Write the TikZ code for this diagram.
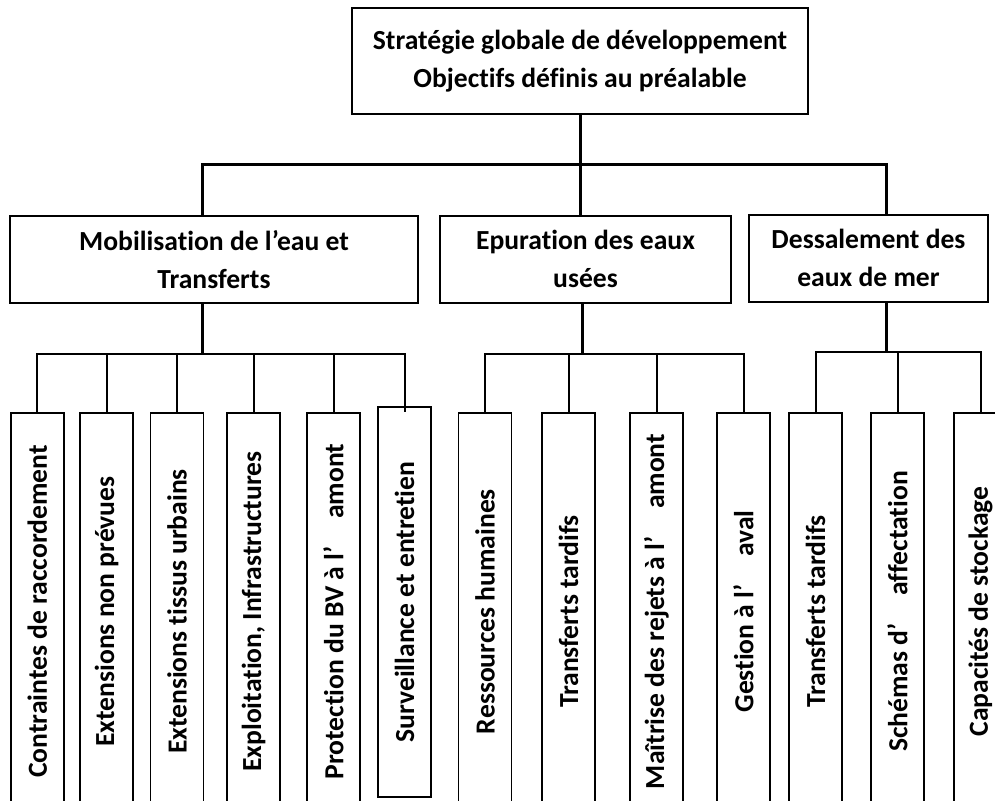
\documentclass[tikz,border=0pt]{standalone}
\usepackage{fontspec}
\setmainfont{Carlito}[Ligatures=NoCommon]
\usetikzlibrary{positioning}
\newcommand{\tabgap}{\hspace{1em}}
\tikzset{
    common/.style={draw, rectangle, line width=1pt, inner sep=2pt, font=\bfseries\fontsize{13.8}{19}\selectfont},
    topbox/.style={common, minimum width=228pt, minimum height=53pt, align=center},
    headbox/.style={common, minimum height=43.5pt, align=center},
    leafbox/.style={common, line width=0.8pt, rotate=90, minimum width=198.5pt, minimum height=26.5pt},
    link/.style={line width=1.5pt},
    leaflink/.style={line width=1pt},
}
\begin{document}
\begin{tikzpicture}[x=0.5pt, y=-0.5pt]
    \useasboundingbox (0,0) rectangle (995,800);
    \clip (0,0) rectangle (995,800);

    \node[topbox] (strat) at (580,61) {Stratégie globale de développement\\Objectifs définis au préalable};

    \node[headbox, minimum width=204pt] (mob) at (214,259.5) {Mobilisation de l’eau et\\Transferts};
    \node[headbox, minimum width=145.5pt] (epu) at (585.5,259) {Epuration des eaux\\usées};
    \node[headbox, minimum width=119.5pt] (des) at (868.5,258) {Dessalement des\\eaux de mer};

    \coordinate (bar-left) at (202,164);
    \coordinate (bar-right) at (886,164);
    \draw[link] (strat.south) -- (strat.south |- epu.north);
    \draw[link] (bar-left |- mob.north) -- (bar-left) -- (bar-right) -- (bar-right |- des.north);

    % leaves
    \node[leafbox] (mob-1) at (37.3,611.5) {Contraintes de raccordement};
    \node[leafbox] (mob-2) at (106.5,611.5) {Extensions non prévues};
    \node[leafbox] (mob-3) at (177,611.5) {Extensions tissus urbains};
    \node[leafbox] (mob-4) at (253.5,611.5) {Exploitation, Infrastructures};
    \node[leafbox] (mob-5) at (333.5,611.5) {Protection du BV à l’\tabgap amont};
    \node[leafbox, minimum width=195pt] (mob-6) at (404.5,602) {Surveillance et entretien};

    \node[leafbox] (epu-1) at (485,611.5) {Ressources humaines};
    \node[leafbox] (epu-2) at (568.5,611.5) {Transferts tardifs};
    \node[leafbox] (epu-3) at (656.5,611.5) {Maîtrise des rejets à l’\tabgap amont};
    \node[leafbox] (epu-4) at (743.5,611.5) {Gestion à l’\tabgap aval};

    \node[leafbox] (des-1) at (815.5,611.5) {Transferts tardifs};
    \node[leafbox] (des-2) at (897.5,611.5) {Schémas d’\tabgap affectation};
    \node[leafbox] (des-3) at (980.5,611.5) {Capacités de stockage};

    \coordinate (mob-fork) at (202,354);
    \coordinate (epu-fork) at (582,354);
    \coordinate (des-fork) at (886,352);

    \draw[link] (mob.south -| mob-fork) -- (mob-fork);
    \draw[leaflink] (mob-1.east) -- (mob-1.east |- mob-fork) -- (mob-6.east |- mob-fork) -- (mob-6.east |- mob-5.east);
    \foreach \n in {mob-2,mob-3,mob-4,mob-5}
        \draw[leaflink] (\n.east) -- (\n.east |- mob-fork);

    \draw[link] (epu.south -| epu-fork) -- (epu-fork);
    \draw[leaflink] (epu-1.east) -- (epu-1.east |- epu-fork) -- (epu-4.east |- epu-fork) -- (epu-4.east);
    \foreach \n in {epu-2,epu-3}
        \draw[leaflink] (\n.east) -- (\n.east |- epu-fork);

    \draw[link] (des.south -| des-fork) -- (des-fork);
    \draw[leaflink] (des-1.east) -- (des-1.east |- des-fork) -- (des-3.east |- des-fork) -- (des-3.east);
    \draw[leaflink] (des-2.east) -- (des-2.east |- des-fork);
\end{tikzpicture}
\end{document}
